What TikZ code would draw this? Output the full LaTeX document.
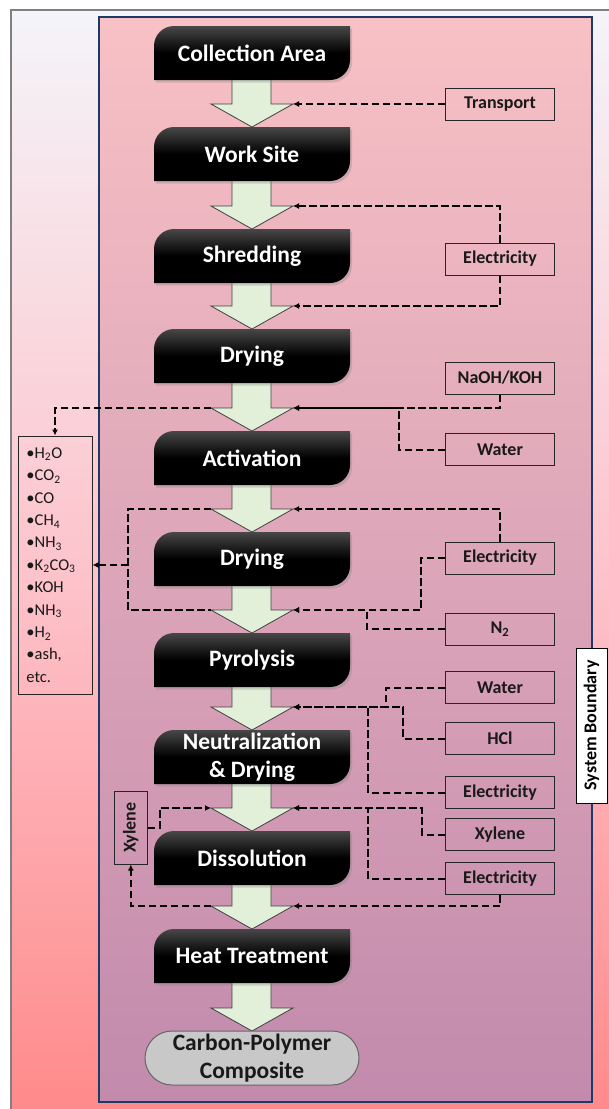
\documentclass[tikz,border=0pt]{standalone}
\usepackage{fontspec}
\setmainfont{Carlito}
\usepackage{graphicx}
\usetikzlibrary{arrows.meta,shadows}
\definecolor{innertop}{HTML}{F8C1C5}
\definecolor{innerbot}{HTML}{C28AAC}
\definecolor{outtop}{HTML}{F4F4F9}
\definecolor{outmid}{HTML}{FDC3CB}
\definecolor{outbot}{HTML}{FF8787}
\definecolor{navy}{HTML}{203864}
\definecolor{arrowfill}{HTML}{E2EFD9}
\definecolor{pillfill}{HTML}{C8C8C8}

\newcommand\procshape[1]{%
  \shade[top color=black!72, bottom color=black, middle color=black,
         drop shadow={opacity=0.3,shadow xshift=2pt,shadow yshift=-2.5pt}]
    (154,#1+20) arc[start angle=180,end angle=90,radius=20pt] -- (350,#1) --
    (350,#1+34) arc[start angle=0,end angle=-90,radius=20pt] -- (154,#1+54) -- cycle;}
\newcommand\flowarrow[3]{%
  \filldraw[flowarr] (232,#2-2) -- (271,#2-2) -- (271,#3-23) -- (293,#3-23) -- (252,#3) --
    (211,#3-23) -- (232,#3-23) -- cycle;
  \coordinate (a#1r) at (293,#3-23);
  \coordinate (a#1l) at (211,#3-23);}

\begin{document}
\begin{tikzpicture}[x=1pt,y=-1pt,
  conn/.style={line width=2pt, dash pattern=on 7.5pt off 3.5pt, -{Latex[length=6pt,width=6pt]}},
  dline/.style={line width=2pt, dash pattern=on 7.5pt off 3.5pt},
  flowarr/.style={fill=arrowfill, draw=black!75, line width=0.8pt, line join=miter},
  ptext/.style={text=white, font=\fontsize{23.5}{28.4}\selectfont\bfseries, align=center, inner sep=0pt},
  sbox/.style={draw=black!85, line width=1pt, minimum width=109pt, minimum height=32pt, inner sep=0pt,
               font=\fontsize{18}{21}\selectfont\bfseries, text=black!90},
]
\useasboundingbox (0,0) rectangle (609,1109);
\clip (0,0) rectangle (609,1109);
\fill[white] (0,0) rectangle (609,1109);
% outer frame
\shade[top color=outtop, bottom color=outbot, middle color=outmid] (11,10) rectangle (640,1140);
\draw[black!50, line width=1.2pt] (640,10) -- (11,10) -- (11,1140);
% system boundary
\shade[top color=innertop, bottom color=innerbot] (99,17) rectangle (592,1102);
\draw[navy, line width=1.6pt] (99,17) rectangle (592,1102);

% flow arrows
\flowarrow{1}{80}{127}
\flowarrow{2}{181}{229}
\flowarrow{3}{283}{329}
\flowarrow{4}{383}{431}
\flowarrow{5}{485}{532}
\flowarrow{6}{586}{633}
\flowarrow{7}{687}{730}
\flowarrow{8}{784}{831}
\flowarrow{9}{885}{929}
\flowarrow{10}{983}{1031}

% process boxes
\procshape{26}  \node[ptext] (p1) at (252,53) {Collection Area};
\procshape{127} \node[ptext] (p2) at (252,154) {Work Site};
\procshape{229} \node[ptext] (p3) at (252,256) {Shredding};
\procshape{329} \node[ptext] (p4) at (252,356) {Drying};
\procshape{431} \node[ptext] (p5) at (252,458) {Activation};
\procshape{532} \node[ptext] (p6) at (252,559) {Drying};
\procshape{633} \node[ptext] (p7) at (252,660) {Pyrolysis};
\procshape{730} \node[ptext] (p8) at (252,757) {Neutralization\\\& Drying};
\procshape{831} \node[ptext] (p9) at (252,858) {Dissolution};
\procshape{929} \node[ptext] (p10) at (252,956) {Heat Treatment};
\node[draw=black!60, line width=1pt, fill=pillfill, rounded corners=27pt, minimum width=214pt,
      minimum height=54pt, inner sep=0pt, font=\fontsize{23.5}{28.7}\selectfont\bfseries,
      text=black!90, align=center] (p11) at (252,1058) {Carbon-Polymer\\Composite};

% input boxes
\node[sbox] (tr)   at (500,104)   {Transport};
\node[sbox] (e1)   at (500,259)   {Electricity};
\node[sbox] (naoh) at (500,378)   {NaOH/KOH};
\node[sbox] (w1)   at (500,449.5) {Water};
\node[sbox] (e2)   at (500,558)   {Electricity};
\node[sbox] (n2)   at (500,629)   {N\textsubscript{2}};
\node[sbox] (w2)   at (500,687.5) {Water};
\node[sbox] (hcl)  at (500,738.5) {HCl};
\node[sbox] (e3)   at (500,792.5) {Electricity};
\node[sbox] (xr)   at (500,834.5) {Xylene};
\node[sbox] (e4)   at (500,878.5) {Electricity};
\node[sbox, minimum width=32.5pt, minimum height=73pt] (xl) at (130.8,827.5) {\rotatebox{90}{Xylene}};

% emissions list
\node[draw=black!85, line width=1pt, minimum width=74pt, minimum height=258pt, text width=57pt,
      inner xsep=8.5pt, inner ysep=0pt, align=left, font=\fontsize{16.5}{22.4}\selectfont, text=black!90]
  (list) at (55,565)
  {•H\textsubscript{2}O\\•CO\textsubscript{2}\\•CO\\•CH\textsubscript{4}\\•NH\textsubscript{3}\\•K\textsubscript{2}CO\textsubscript{3}\\•KOH\\•NH\textsubscript{3}\\•H\textsubscript{2}\\•ash,\\etc.};

% system boundary label
\node[draw=black, fill=white, line width=1pt, minimum width=31pt, minimum height=155pt, inner sep=0pt,
      font=\fontsize{18}{21}\selectfont\bfseries] (sb) at (591.5,725.5) {\rotatebox{90}{System Boundary}};

% connectors
\draw[conn] (tr.west) -- (a1r);
\draw[conn] (e1.north) |- (a2r);
\draw[conn] (e1.south) |- (a3r);
\draw[conn] (naoh.south) |- (a4r);
\draw[conn] (w1.west) -- ++(-46,0) |- (a4r);
\draw[conn] (a4l) -| (list.north);
\draw[conn] (e2.north) |- (a5r);
\draw[conn] (e2.west) -- ++(-24,0) |- (a6r);
\draw[conn] (n2.west) -- ++(-78,0) |- (a6r);
\coordinate (lp) at (128,565);
\draw[dline] (a5l) -| (lp) |- (a6l);
\draw[conn] (lp) -- (list.east);
\draw[conn] (w2.west) -- ++(-59,0) |- (a7r);
\draw[conn] (hcl.west) -- ++(-42,0) |- (a7r);
\draw[conn] (e3.west) -- ++(-77,0) |- (a7r);
\draw[conn] (xr.west) -- ++(-23,0) |- (a8r);
\draw[conn] (e4.west) -- ++(-77,0) |- (a8r);
\draw[conn] (e4.south) |- (a9r);
\draw[conn] (a9l) -| (xl.south);
\draw[conn] (xl.east) -- ++(12,0) |- (a8l);
\end{tikzpicture}
\end{document}
